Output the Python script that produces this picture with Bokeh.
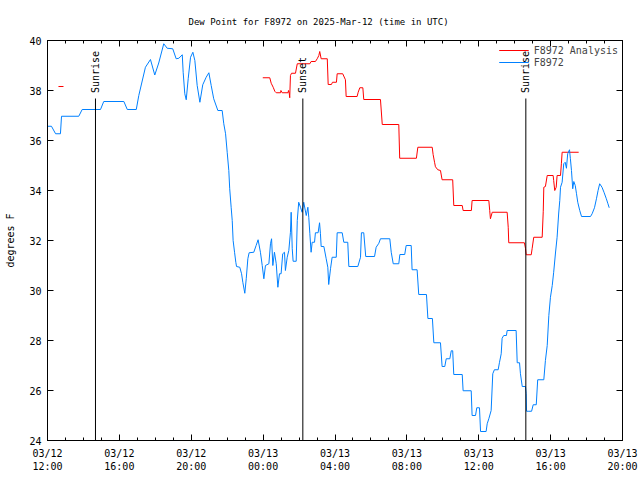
import math
from bokeh.plotting import figure
from bokeh.models import FixedTicker, LinearAxis, Range1d, Legend, LegendItem
from bokeh.core.properties import value
from bokeh.embed import file_html
from bokeh.resources import INLINE

# hours since 2025-03-12 12:00 UTC
tick_hours = [0, 4, 8, 12, 16, 20, 24, 28, 32]
tick_labels = ["03/12\n12:00", "03/12\n16:00", "03/12\n20:00", "03/13\n00:00",
               "03/13\n04:00", "03/13\n08:00", "03/13\n12:00", "03/13\n16:00", "03/13\n20:00"]
y_ticks = [24, 26, 28, 30, 32, 34, 36, 38, 40]

blue_hours = [0.00, 0.22, 0.45, 0.72, 0.78, 1.74, 1.93, 2.95, 3.13, 4.25, 4.44, 4.94, 5.08, 5.45, 5.73,
              5.97, 6.19, 6.47, 6.66, 6.97, 7.16, 7.31, 7.50, 7.55, 7.64, 7.72, 7.83, 7.96, 8.09, 8.20,
              8.33, 8.48, 8.64, 8.83, 8.98, 9.11, 9.25, 9.48, 9.72, 9.81, 9.91, 10.00, 10.09, 10.14, 10.22,
              10.28, 10.33, 10.41, 10.48, 10.52, 10.70, 10.80, 10.87, 10.98, 11.06, 11.15, 11.22, 11.48, 11.61,
              11.72, 11.85, 11.95, 12.04, 12.13, 12.32, 12.41, 12.47, 12.54, 12.63, 12.73, 12.82, 12.91, 13.00,
              13.09, 13.19, 13.24, 13.34, 13.43, 13.52, 13.56, 13.62, 13.67, 13.84, 13.90, 13.98, 14.08, 14.17,
              14.26, 14.40, 14.49, 14.54, 14.60, 14.67, 14.73, 14.86, 14.91, 15.06, 15.14, 15.19, 15.23, 15.38,
              15.51, 15.60, 15.65, 15.75, 15.84, 16.07, 16.12, 16.40, 16.49, 16.71, 16.77, 17.27, 17.42, 17.47,
              17.60, 17.71, 18.20, 18.29, 18.44, 18.53, 19.05, 19.13, 19.24, 19.55, 19.61, 19.88, 19.96, 20.24,
              20.29, 20.57, 20.66, 21.09, 21.17, 21.42, 21.50, 21.87, 21.96, 22.11, 22.19, 22.39, 22.47, 22.55,
              22.61, 23.08, 23.13, 23.58, 23.63, 23.82, 23.89, 24.04, 24.10, 24.41, 24.47, 24.56, 24.69, 24.78,
              24.87, 25.08, 25.15, 25.25, 25.30, 25.39, 25.54, 25.58, 26.08, 26.14, 26.27, 26.32, 26.42, 26.60,
              26.64, 26.66, 26.75, 26.94, 27.03, 27.20, 27.28, 27.62, 27.71, 27.81, 27.90, 27.99, 28.09, 28.17,
              28.27, 28.36, 28.45, 28.51, 28.55, 28.64, 28.73, 28.81, 28.88, 28.95, 29.05, 29.10, 29.16, 29.23,
              29.29, 29.37, 29.44, 29.51, 29.62, 29.72, 30.22, 30.31, 30.44, 30.55, 30.64, 30.73, 30.86, 30.97,
              31.10, 31.19, 31.26]
blue_dewpt = [36.57, 36.57, 36.27, 36.27, 36.97, 36.97, 37.24, 37.24, 37.56, 37.56, 37.24, 37.24, 37.80, 38.93, 39.24,
              38.62, 39.10, 39.87, 39.69, 39.67, 39.27, 39.29, 39.43, 38.73, 37.87, 37.63, 38.47, 39.33, 39.53, 39.20,
              38.20, 37.53, 38.23, 38.53, 38.71, 38.20, 37.67, 37.20, 37.20, 36.67, 36.27, 35.53, 34.80, 34.07, 33.33,
              32.80, 32.00, 31.53, 31.13, 30.96, 30.93, 30.67, 30.33, 29.89, 30.47, 31.27, 31.51, 31.53, 31.80,
              32.03, 31.53, 31.00, 30.47, 31.00, 31.07, 31.87, 32.07, 31.00, 31.53, 31.07, 30.13, 30.67, 30.67,
              31.47, 31.53, 30.80, 31.33, 31.60, 32.33, 33.13, 31.67, 31.17, 31.17, 32.80, 33.53, 33.33, 33.13,
              33.53, 33.00, 33.33, 32.93, 32.27, 31.53, 31.93, 31.93, 32.31, 32.31, 32.71, 32.27, 31.76, 31.76,
              31.27, 30.93, 30.24, 30.87, 31.33, 31.33, 32.31, 32.31, 31.93, 31.93, 30.96, 30.96, 31.33, 32.31,
              32.31, 31.36, 31.36, 31.73, 31.89, 32.07, 32.07, 31.53, 31.07, 31.07, 31.44, 31.44, 31.80, 31.80,
              30.83, 30.83, 29.84, 29.84, 28.88, 28.88, 27.91, 27.91, 26.96, 26.96, 27.27, 27.27, 27.59, 27.59,
              26.64, 26.64, 25.99, 25.99, 25.00, 25.00, 25.31, 25.31, 24.36, 24.36, 24.67, 24.87, 25.20, 26.67,
              26.83, 26.83, 27.11, 27.47, 28.09, 28.20, 28.20, 28.40, 28.40, 27.11, 27.11, 26.67, 26.16, 26.16,
              25.87, 25.17, 25.17, 25.17, 25.43, 25.43, 26.43, 26.43, 27.20, 27.80, 29.00, 29.73, 30.20, 30.73,
              31.50, 32.13, 33.10, 33.60, 34.13, 34.33, 35.07, 35.13, 34.89, 35.47, 35.63, 35.27, 34.80, 34.07,
              34.36, 34.20, 33.87, 33.53, 33.20, 32.96, 32.96, 33.07, 33.31, 33.67, 34.00, 34.27, 34.13, 33.93,
              33.67, 33.47, 33.31]

nan = float("nan")
red_hours = [0.61, 0.89, nan,
             11.98, 12.37, 12.45, 12.56, 12.65, 12.73, 12.97, 12.99, 13.06, 13.39, 13.41, 13.45, 13.48, 13.52,
             13.58, 13.80, 13.90, 14.60, 14.67, 14.91, 15.01, 15.10, 15.15, 15.23, 15.57, 15.62, 15.80, 15.86,
             16.08, 16.12, 16.43, 16.58, 16.62, 17.23, 17.29, 17.38, 17.55, 17.60, 18.53, 18.63, 19.55, 19.60,
             20.53, 20.61, 21.41, 21.46, 21.54, 21.59, 21.72, 21.87, 21.96, 22.55, 22.61, 23.08, 23.13, 23.59,
             23.63, 24.56, 24.61, 24.65, 24.75, 25.58, 25.64, 25.67, 26.54, 26.60, 26.64, 26.92, 26.97, 27.06,
             27.53, 27.59, 27.62, 27.71, 27.81, 28.14, 28.17, 28.23, 28.31, 28.36, 28.55, 28.60, 28.64, 29.56]
red_dewpt = [38.16, 38.16, nan,
             38.51, 38.51, 38.29, 38.13, 37.97, 37.91, 37.91, 38.00, 37.91, 37.91, 38.00, 37.91, 37.71, 38.60,
             38.69, 38.69, 39.07, 39.07, 39.16, 39.16, 39.27, 39.40, 39.56, 39.27, 39.27, 38.24, 38.24, 38.33,
             38.33, 38.67, 38.67, 38.43, 37.76, 37.76, 37.93, 38.11, 38.11, 37.64, 37.64, 36.64, 36.64, 35.29,
             35.29, 35.73, 35.73, 35.44, 35.13, 34.95, 34.83, 34.80, 34.43, 34.43, 33.40, 33.40, 33.20, 33.20,
             33.60, 33.60, 33.20, 32.87, 33.13, 33.13, 32.53, 31.91, 31.91, 31.69, 31.43, 31.43, 31.67, 32.13,
             32.13, 33.17, 34.13, 34.16, 34.60, 34.60, 34.40, 34.00, 34.13, 34.60, 34.60, 35.09, 35.53, 35.53]

sun_hours = [2.67, 14.21, 26.62]
sun_labels = ["Sunrise", "Sunset", "Sunrise"]
sun_line_top = 37.68
sun_label_y = 37.9

FONT = "DejaVu Sans Mono"
FS = "10px"

p = figure(frame_width=575, frame_height=400,
           x_range=Range1d(0, 32), y_range=Range1d(24, 40),
           output_backend="svg", toolbar_location=None,
           min_border_left=47, min_border_right=18, min_border_top=40, min_border_bottom=40,
           title="Dew Point for F8972 on 2025-Mar-12 (time in UTC)")
p.title.align = "left"
p.title.offset = 141
p.title.text_font = FONT
p.title.text_font_size = "9px"
p.title.text_font_style = "normal"
p.title.text_color = "black"
p.title.standoff = 27

p.xgrid.visible = False
p.ygrid.visible = False
p.outline_line_color = "black"
p.outline_line_alpha = 1.0
p.outline_line_width = 1

xt = FixedTicker(ticks=tick_hours, minor_ticks=list(range(33)))
yt = FixedTicker(ticks=y_ticks, minor_ticks=[])

xa = p.xaxis[0]
xa.ticker = xt
xa.major_label_overrides = {h: lab for h, lab in zip(tick_hours, tick_labels)}
ya = p.yaxis[0]
ya.ticker = yt
ya.axis_label = "degrees F"
ya.axis_label_text_font_style = "normal"
ya.axis_label_text_font = FONT
ya.axis_label_text_font_size = FS
ya.axis_label_text_color = "black"
ya.axis_label_standoff = 10

for ax in (xa, ya):
    ax.major_tick_in = 6
    ax.major_tick_out = 0
    ax.minor_tick_in = 3
    ax.minor_tick_out = 0
    ax.major_label_text_font = FONT
    ax.major_label_text_font_size = FS
    ax.major_label_text_color = "black"
    ax.axis_line_color = "black"
    ax.major_tick_line_color = "black"
    ax.minor_tick_line_color = "black"
xa.major_label_standoff = 7
ya.major_label_standoff = 6

# mirrored ticks on the top and right frame edges (no labels)
top = LinearAxis(ticker=xt, major_label_text_font_size="1px", major_label_text_color=None,
                 major_tick_in=6, major_tick_out=0, minor_tick_in=3, minor_tick_out=0,
                 major_label_standoff=0)
right = LinearAxis(ticker=yt, major_label_text_font_size="1px", major_label_text_color=None,
                   major_tick_in=6, major_tick_out=0, minor_tick_in=0, minor_tick_out=0,
                   major_label_standoff=0)
p.add_layout(top, "above")
p.add_layout(right, "right")

red = p.line(red_hours, red_dewpt, line_color="#ff0000", line_width=1)
blue = p.line(blue_hours, blue_dewpt, line_color="#0080ff", line_width=1)

p.segment(x0=sun_hours, y0=[24] * len(sun_hours), x1=sun_hours, y1=[sun_line_top] * len(sun_hours),
          line_color="black", line_width=1)
p.text(x=sun_hours, y=[sun_label_y] * len(sun_hours), text=sun_labels, angle=math.pi / 2,
       text_align="left", text_baseline="middle", text_font=value(FONT), text_font_size=FS,
       text_color="black")

legend = Legend(items=[LegendItem(label="F8972 Analysis", renderers=[red]),
                       LegendItem(label="F8972", renderers=[blue])],
                location="top_right")
legend.label_text_font = FONT
legend.label_text_font_size = FS
legend.glyph_width = 30
legend.glyph_height = 12
legend.label_height = 12
legend.spacing = 0
legend.padding = 2
legend.margin = 4
legend.background_fill_alpha = 0
legend.border_line_color = None
p.add_layout(legend)

open("out.html", "w").write(file_html(p, INLINE))
